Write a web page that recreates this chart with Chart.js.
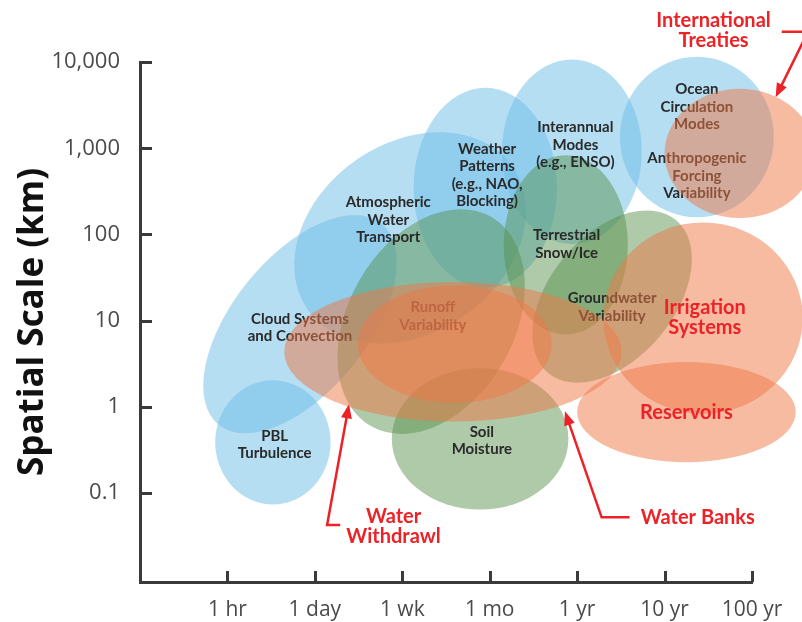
<!DOCTYPE html>
<html><head><meta charset="utf-8">
<script src="https://cdn.jsdelivr.net/npm/chart.js@4.4.1/dist/chart.umd.min.js"></script>
<style>html,body{margin:0;padding:0;background:#fff}canvas{display:block}</style>
</head><body>
<canvas id="c" width="802" height="622"></canvas>
<script>
// ---- axes ----
const timeTicks  = [0, 1, 2, 3, 4, 5, 6];
const timeLabels = ['1 hr', '1 day', '1 wk', '1 mo', '1 yr', '10 yr', '100 yr'];
const spaceTicks  = [-1, 0, 1, 2, 3, 4];            // log10(km)
const spaceLabels = ['0.1', '1', '10', '100', '1,000', '10,000'];

// ---- process / management domains (ellipses) ----
// x in time-axis positions, y in log10(km); half sizes in the same units; tilt in degrees
const domainNames = ['PBL Turbulence', 'Cloud Systems and Convection', 'Atmospheric Water Transport',
  'Weather Patterns', 'Interannual Modes', 'Ocean Circulation Modes',
  'Runoff (land)', 'Terrestrial Snow/Ice', 'Groundwater Variability', 'Soil Moisture',
  'Water Withdrawl', 'Runoff Variability', 'Irrigation Systems', 'Reservoirs', 'International Treaties'];
const domainGroup = ['climate','climate','climate','climate','climate','climate',
  'land','land','land','land',
  'management','management','management','management','management'];
const domainX  = [0.52, 0.83, 2.09, 2.95, 3.94, 5.37, 2.33, 3.87, 4.40, 2.89, 2.58, 2.60, 5.44, 5.25, 5.86];
const domainY  = [-0.41, 0.96, 1.96, 2.54, 2.96, 3.13, 0.99, 1.88, 1.28, -0.37, 0.64, 0.73, 1.03, -0.06, 2.94];
const domainRX = [0.66, 1.48, 1.43, 0.82, 0.80, 0.88, 1.38, 0.71, 1.14, 1.01, 1.93, 1.11, 1.14, 1.25, 0.86];
const domainRY = [0.72, 0.78, 1.10, 1.16, 1.07, 0.93, 0.96, 1.04, 0.72, 0.82, 0.81, 0.68, 1.11, 0.58, 0.75];
const domainTilt = [0, -51, -35, 0, 0, 0, -60, 0, -50, 0, 0, 0, 0, 0, 0];

// ---- text labels ----
const processText = [['PBL','Turbulence'], ['Cloud Systems','and Convection'], ['Atmospheric','Water','Transport'],
  ['Weather','Patterns','(e.g., NAO,','Blocking)'], ['Interannual','Modes','(e.g., ENSO)'],
  ['Ocean','Circulation','Modes'], ['Anthropogenic','Forcing','Variability'], ['Terrestrial','Snow/Ice'],
  ['Runoff','Variability'], ['Groundwater','Variability'], ['Soil','Moisture']];
const processX = [0.54, 0.83, 1.84, 2.97, 3.98, 5.37, 5.37, 3.88, 2.35, 4.40, 2.91];
const processY = [-0.44, 0.92, 2.17, 2.69, 3.04, 3.48, 2.68, 1.89, 1.05, 1.16, -0.39];

const mgmtText = [['Irrigation','Systems'], ['Reservoirs'], ['International','Treaties'], ['Water','Withdrawl'], ['Water Banks']];
const mgmtX = [5.46, 5.25, 5.56, 1.90, 5.38];
const mgmtY = [1.04, -0.07, 4.36, -1.39, -1.28];

// arrows (polyline, last point is the tip)
const arrowX = [[1.29, 1.14, 1.39], [4.60, 4.28, 3.86], [6.34, 6.64, 6.27]];
const arrowY = [[-1.37, -1.37, 0.03], [-1.28, -1.28, -0.05], [4.35, 4.35, 3.59]];

const fills = {
  climate: 'rgba(110,190,232,0.5)',
  land: 'rgba(85,145,75,0.48)',
  management: 'rgba(240,120,70,0.5)'
};
const RED = '#ec2227';

const domainsPlugin = {
  id: 'domains',
  afterDraw(chart) {
    const {ctx, scales: {x, y}} = chart;
    const ux = Math.abs(x.getPixelForValue(1) - x.getPixelForValue(0));
    const uy = Math.abs(y.getPixelForValue(1) - y.getPixelForValue(0));
    ctx.save();
    // inward tick marks
    ctx.strokeStyle = '#3a3a3a';
    ctx.lineWidth = 3;
    const left = chart.chartArea.left, bottom = chart.chartArea.bottom;
    spaceTicks.forEach(v => {
      const py = Math.round(y.getPixelForValue(v)) + 0.5;
      ctx.beginPath(); ctx.moveTo(left, py); ctx.lineTo(left + 12, py); ctx.stroke();
    });
    timeTicks.forEach(v => {
      const px = Math.round(x.getPixelForValue(v)) + 0.5;
      ctx.beginPath(); ctx.moveTo(px, bottom); ctx.lineTo(px, bottom - 11); ctx.stroke();
    });

    const drawGroup = g => {
      for (let i = 0; i < domainX.length; i++) {
        if (domainGroup[i] !== g) continue;
        ctx.beginPath();
        ctx.ellipse(x.getPixelForValue(domainX[i]), y.getPixelForValue(domainY[i]),
          domainRX[i] * ux, domainRY[i] * uy, domainTilt[i] * Math.PI / 180, 0, Math.PI * 2);
        ctx.fillStyle = fills[g];
        ctx.fill();
      }
    };
    const drawText = (lines, cx, cy, font, color, lh) => {
      ctx.font = font; ctx.fillStyle = color;
      ctx.textAlign = 'center'; ctx.textBaseline = 'middle';
      const px = x.getPixelForValue(cx), py = y.getPixelForValue(cy);
      const top = py - (lines.length - 1) * lh / 2;
      lines.forEach((t, k) => ctx.fillText(t, px, top + k * lh));
    };

    drawGroup('climate');
    drawGroup('land');
    processText.forEach((l, i) => drawText(l, processX[i], processY[i], 'bold 15px Lato', '#2a2a2a', 17.5));
    drawGroup('management');
    mgmtText.forEach((l, i) => drawText(l, mgmtX[i], mgmtY[i], 'bold 20px Lato', RED, 20));

    // arrows
    ctx.strokeStyle = RED; ctx.fillStyle = RED; ctx.lineWidth = 2.5; ctx.lineJoin = 'miter';
    arrowX.forEach((xs, i) => {
      const pts = xs.map((v, k) => [x.getPixelForValue(v), y.getPixelForValue(arrowY[i][k])]);
      const n = pts.length;
      const [tx, ty] = pts[n - 1], [sx, sy] = pts[n - 2];
      const ang = Math.atan2(ty - sy, tx - sx);
      const L = 14, W = 5.5;
      ctx.beginPath();
      ctx.moveTo(pts[0][0], pts[0][1]);
      for (let k = 1; k < n - 1; k++) ctx.lineTo(pts[k][0], pts[k][1]);
      ctx.lineTo(tx - Math.cos(ang) * (L - 2), ty - Math.sin(ang) * (L - 2));
      ctx.stroke();
      ctx.beginPath();
      ctx.moveTo(tx, ty);
      ctx.lineTo(tx - L * Math.cos(ang) + W * Math.sin(ang), ty - L * Math.sin(ang) - W * Math.cos(ang));
      ctx.lineTo(tx - L * Math.cos(ang) - W * Math.sin(ang), ty - L * Math.sin(ang) + W * Math.cos(ang));
      ctx.closePath(); ctx.fill();
    });
    ctx.restore();
  }
};

new Chart(document.getElementById('c'), {
  type: 'scatter',
  data: {
    datasets: [{
      label: 'Domain centres',
      data: domainX.map((v, i) => ({x: v, y: domainY[i]})),
      pointRadius: 0, pointHoverRadius: 0
    }]
  },
  options: {
    responsive: false,
    animation: false,
    events: [],
    layout: {padding: {left: 0, top: 62, right: 50, bottom: 0}},
    plugins: {legend: {display: false}, tooltip: {enabled: false}},
    scales: {
      x: {
        type: 'linear', min: -1, max: 6,
        grid: {display: false},
        border: {display: true, color: '#3a3a3a', width: 3},
        afterBuildTicks: s => { s.ticks = timeTicks.map(v => ({value: v})); },
        afterFit: s => { s.height = 40; s.paddingLeft = 0; s.paddingRight = 0; },
        ticks: {
          autoSkip: false, maxRotation: 0, padding: 7,
          color: '#4a4a4a', font: {family: 'Open Sans', size: 21},
          callback: (v, i) => timeLabels[i]
        }
      },
      y: {
        type: 'linear', min: -2.03, max: 4,
        grid: {display: false},
        border: {display: true, color: '#3a3a3a', width: 3},
        afterBuildTicks: s => { s.ticks = spaceTicks.map(v => ({value: v})); },
        afterFit: s => { s.width = 140; s.paddingTop = 0; s.paddingBottom = 0; },
        ticks: {
          autoSkip: false, padding: 12,
          color: '#4a4a4a', font: {family: 'Open Sans', size: 22},
          callback: (v, i) => spaceLabels[i]
        },
        title: {
          display: true, text: 'Spatial Scale (km)', color: '#111',
          font: {family: 'Open Sans', size: 35, weight: 'bold'},
          padding: {top: 12, bottom: 0}
        }
      }
    }
  },
  plugins: [domainsPlugin]
});
</script>
</body></html>
